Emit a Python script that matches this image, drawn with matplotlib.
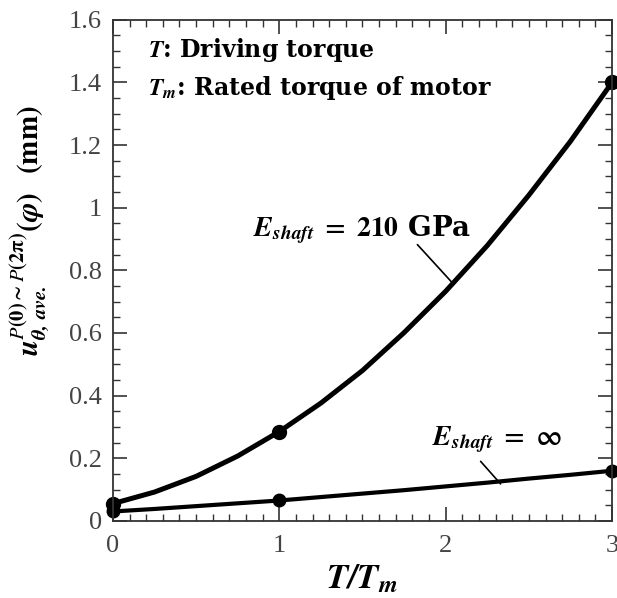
#!/usr/bin/env python3
"""Average circumferential displacement vs. driving torque ratio."""
import matplotlib

matplotlib.use("Agg")
import matplotlib.pyplot as plt
from matplotlib.ticker import MultipleLocator

# measured points (markers)
t_ratio = [0, 1, 3]
u_210 = [0.055, 0.285, 1.40]
u_inf = [0.03, 0.065, 0.16]

# smooth curves through the points
t_curve = [0, 0.25, 0.5, 0.75, 1, 1.25, 1.5, 1.75, 2, 2.25, 2.5, 2.75, 3]
u_210_curve = [0.055, 0.092, 0.142, 0.207, 0.285, 0.376, 0.48, 0.601, 0.733,
               0.879, 1.04, 1.212, 1.40]
u_inf_curve = [0.03, 0.038, 0.047, 0.056, 0.065, 0.076, 0.087, 0.098, 0.11,
               0.122, 0.135, 0.147, 0.16]

plt.rcParams["mathtext.fontset"] = "stix"

fig = plt.figure(figsize=(6.17, 5.98), dpi=100)
ax = fig.add_axes([0.183, 0.129, 0.809, 0.838])

ax.plot(t_curve, u_210_curve, color="black", lw=3.6, solid_capstyle="round")
ax.plot(t_curve, u_inf_curve, color="black", lw=3.0, solid_capstyle="round")
ax.plot(t_ratio, u_210, "o", color="black", ms=10, clip_on=False)
ax.plot(t_ratio, u_inf, "o", color="black", ms=9, clip_on=False)

ax.set_xlim(0, 3)
ax.set_ylim(0, 1.6)
ax.xaxis.set_major_locator(MultipleLocator(1))
ax.xaxis.set_minor_locator(MultipleLocator(0.1))
ax.yaxis.set_minor_locator(MultipleLocator(0.05))
ax.set_yticks([0, 0.2, 0.4, 0.6, 0.8, 1, 1.2, 1.4, 1.6])
ax.set_yticklabels(["0", "0.2", "0.4", "0.6", "0.8", "1", "1.2", "1.4", "1.6"])
ax.tick_params(which="both", direction="in", top=True, right=True, color="#333333")
ax.tick_params(which="major", length=10, width=1.2, labelsize=19, labelcolor="#444444")
ax.tick_params(axis="y", which="major", pad=8)
ax.tick_params(axis="x", which="major", pad=10)
ax.tick_params(which="minor", length=5, width=1.0)
for lbl in ax.get_xticklabels() + ax.get_yticklabels():
    lbl.set_fontfamily("Liberation Serif")
for s in ax.spines.values():
    s.set_linewidth(1.3)
    s.set_color("#333333")

ax.set_xlabel(r"$\mathbfit{T/T_m}$", fontsize=25, labelpad=3)
ax.set_ylabel(r"$\mathbfit{u}_{\mathbfit{\theta,\,ave.}}^{\mathbf{\mathit{P}(0)\sim\mathit{P}(2\pi)}}\mathbf{(}\mathbfit{\varphi}\mathbf{)}$  $\mathbf{(mm)}$",
              fontsize=21)
ax.yaxis.set_label_coords(-0.125, 0.58)

ax.text(0.07, 0.94, r"$\mathbfit{T}$: Driving torque", transform=ax.transAxes,
        fontsize=17, fontweight="bold", family="DejaVu Serif", va="center")
ax.text(0.07, 0.864, r"$\mathbfit{T_m}$: Rated torque of motor", transform=ax.transAxes,
        fontsize=17, fontweight="bold", family="DejaVu Serif", va="center")

ax.text(1.50, 0.93, r"$\mathbfit{E_{shaft}}\ \mathbf{=\ 210}$ GPa",
        fontsize=20, fontweight="bold", family="DejaVu Serif", ha="center", va="center")
ax.annotate("", xy=(2.04, 0.76), xytext=(1.83, 0.882),
            arrowprops=dict(arrowstyle="-", color="black", lw=1.2, shrinkA=0, shrinkB=0))
ax.text(2.31, 0.26, r"$\mathbfit{E_{shaft}}\ \mathbf{=\ \infty}$",
        fontsize=20, fontweight="bold", family="DejaVu Serif", ha="center", va="center")
ax.annotate("", xy=(2.33, 0.118), xytext=(2.21, 0.19),
            arrowprops=dict(arrowstyle="-", color="black", lw=1.2, shrinkA=0, shrinkB=0))

fig.savefig("out.png", dpi=100)
